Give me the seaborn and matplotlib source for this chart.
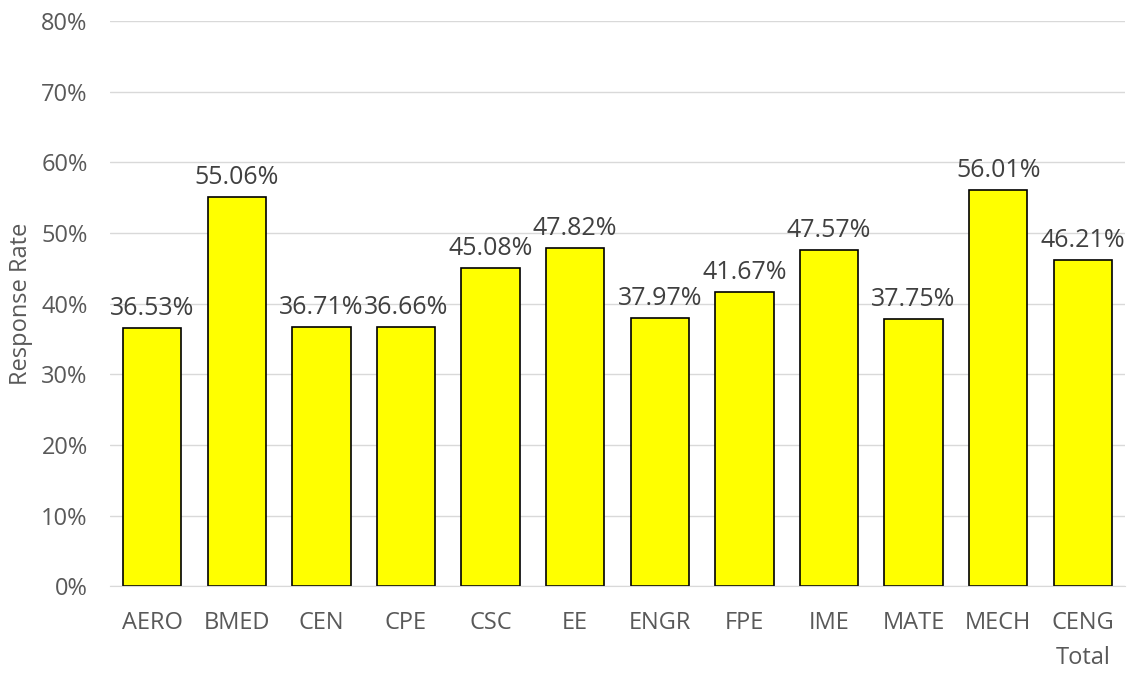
import numpy as np
import pandas as pd
import matplotlib
matplotlib.use("Agg")
import matplotlib.pyplot as plt
import seaborn as sns
from matplotlib.ticker import PercentFormatter

programs = ["AERO", "BMED", "CEN", "CPE", "CSC", "EE", "ENGR", "FPE",
            "IME", "MATE", "MECH", "CENG\nTotal"]
rates = [36.53, 55.06, 36.71, 36.66, 45.08, 47.82, 37.97, 41.67,
         47.57, 37.75, 56.01, 46.21]

df = pd.DataFrame({"program": programs, "rate": rates})

sns.set_style("white")
plt.rcParams["font.family"] = ["Open Sans", "DejaVu Sans"]

fig = plt.figure(figsize=(11.33, 6.73), dpi=100)
ax = fig.add_axes([0.097, 0.129, 0.896, 0.84])

sns.barplot(data=df, x="program", y="rate", color="#FFFF00",
            edgecolor="black", linewidth=1.2, width=0.69, saturation=1, ax=ax)

for i, v in enumerate(rates):
    ax.text(i, v + 1.0, f"{v:.2f}%", ha="center", va="bottom",
            fontsize=18, color="#404040")

ax.set_ylim(0, 80)
ax.set_yticks(np.arange(0, 81, 10))
ax.yaxis.set_major_formatter(PercentFormatter(decimals=0))
ax.set_xlim(-0.5, len(programs) - 0.5)
ax.grid(axis="y", color="#D9D9D9", linewidth=1)
ax.set_axisbelow(True)
for s in ["top", "right", "left"]:
    ax.spines[s].set_visible(False)
ax.spines["bottom"].set_color("#D9D9D9")
ax.tick_params(axis="both", length=0, labelsize=17, colors="#595959")
ax.tick_params(axis="x", pad=18)
ax.tick_params(axis="y", pad=16)
for lbl in ax.get_xticklabels():
    lbl.set_linespacing(1.6)
ax.set_xlabel("")
ax.set_ylabel("Response Rate", fontsize=17, color="#595959", labelpad=6)

fig.savefig("out.png", dpi=100)
